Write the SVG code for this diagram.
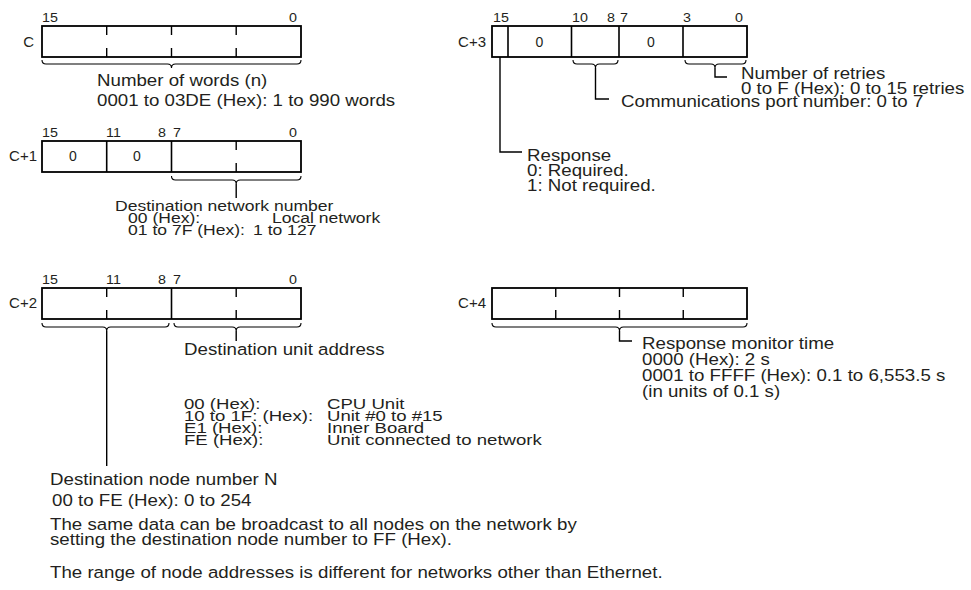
<svg xmlns="http://www.w3.org/2000/svg" width="971" height="590" viewBox="0 0 971 590">
<style>
text{font-family:"Liberation Sans",Arial,Helvetica,sans-serif;fill:#231f20}
.t{font-size:17px}
.s{font-size:15px}
.b{font-size:13px}
.r{font-size:15px}
.z{font-size:14px}
.box{fill:#fff;stroke:#000;stroke-width:1.8}
.div{stroke:#000;stroke-width:1.6;fill:none}
.tick{stroke:#000;stroke-width:1.4;fill:none}
.br{stroke:#000;stroke-width:1.1;fill:none}
.ld{stroke:#000;stroke-width:1.4;fill:none}
</style>

<g id="word-c">
  <rect class="box" x="42" y="26" width="259" height="31"/>
  <path class="tick" d="M106.7,26V35M106.7,48V57M171.5,26V35M171.5,48V57M236.2,26V35M236.2,48V57"/>
  <text class="r" x="34" y="47" text-anchor="end">C</text>
  <text class="b" transform="translate(42,22) scale(1.1,1)">15</text>
  <text class="b" transform="translate(289,22) scale(1.1,1)">0</text>
</g>

<g id="word-c1">
  <rect class="box" x="42" y="141" width="259" height="31"/>
  <path class="div" d="M106.7,141V172M171.5,141V172"/>
  <path class="tick" d="M236.2,141V150M236.2,163V172"/>
  <text class="r" x="37" y="161" text-anchor="end">C+1</text>
  <text class="z" x="73" y="161" text-anchor="middle">0</text>
  <text class="z" x="137" y="161" text-anchor="middle">0</text>
  <text class="b" transform="translate(42,137) scale(1.1,1)">15</text>
  <text class="b" transform="translate(106,137) scale(1.1,1)">11</text>
  <text class="b" transform="translate(158,137) scale(1.1,1)">8</text>
  <text class="b" transform="translate(173,137) scale(1.1,1)">7</text>
  <text class="b" transform="translate(289,137) scale(1.1,1)">0</text>
</g>

<g id="word-c2">
  <rect class="box" x="42" y="288" width="259" height="31"/>
  <path class="div" d="M171.5,288V319"/>
  <path class="tick" d="M106.7,288V297M106.7,310V319M236.2,288V297M236.2,310V319"/>
  <text class="r" x="37" y="308" text-anchor="end">C+2</text>
  <text class="b" transform="translate(42,284) scale(1.1,1)">15</text>
  <text class="b" transform="translate(106,284) scale(1.1,1)">11</text>
  <text class="b" transform="translate(158,284) scale(1.1,1)">8</text>
  <text class="b" transform="translate(173,284) scale(1.1,1)">7</text>
  <text class="b" transform="translate(289,284) scale(1.1,1)">0</text>
</g>

<g id="word-c3">
  <rect class="box" x="492" y="26" width="255" height="31"/>
  <path class="div" d="M508,26V57M571.5,26V57M619,26V57M683,26V57"/>
  <text class="r" x="486" y="47" text-anchor="end">C+3</text>
  <text class="z" x="539.5" y="47" text-anchor="middle">0</text>
  <text class="z" x="651" y="47" text-anchor="middle">0</text>
  <text class="b" transform="translate(493,22) scale(1.1,1)">15</text>
  <text class="b" transform="translate(572,22) scale(1.1,1)">10</text>
  <text class="b" transform="translate(607,22) scale(1.1,1)">8</text>
  <text class="b" transform="translate(620,22) scale(1.1,1)">7</text>
  <text class="b" transform="translate(683,22) scale(1.1,1)">3</text>
  <text class="b" transform="translate(735,22) scale(1.1,1)">0</text>
</g>

<g id="word-c4">
  <rect class="box" x="492" y="288" width="255" height="31"/>
  <path class="tick" d="M555.75,288V297M555.75,310V319M619.5,288V297M619.5,310V319M683.25,288V297M683.25,310V319"/>
  <text class="r" x="486" y="308" text-anchor="end">C+4</text>
</g>

<g id="connectors">
  <path class="br" d="M42,60Q42,64 46,64L167.5,64Q171.5,64 171.5,68Q171.5,64 175.5,64L297,64Q301,64 301,60"/>
  <path class="br" d="M171.5,176Q171.5,180 175.5,180L232.2,180Q236.2,180 236.2,184Q236.2,180 240.2,180L297,180Q301,180 301,176"/>
  <path class="ld" d="M236.2,184V198"/>
  <path class="br" d="M42,323Q42,327 46,327L102.7,327Q106.7,327 106.7,331Q106.7,327 110.7,327L165,327Q169,327 169,323"/>
  <path class="ld" d="M106.7,331V466"/>
  <path class="br" d="M174,323Q174,327 178,327L232.2,327Q236.2,327 236.2,331Q236.2,327 240.2,327L297,327Q301,327 301,323"/>
  <path class="ld" d="M236.2,331V341"/>
  <path class="br" d="M573,60Q573,64 577,64L591.5,64Q595.5,64 595.5,68Q595.5,64 599.5,64L614,64Q618,64 618,60"/>
  <path class="ld" d="M595.5,68V99H609"/>
  <path class="br" d="M685,60Q685,64 689,64L711,64Q715,64 715,68Q715,64 719,64L742,64Q746,64 746,60"/>
  <path class="ld" d="M715,68V77H727"/>
  <path class="ld" d="M500,57V152H522"/>
  <path class="br" d="M492,323Q492,327 496,327L615.5,327Q619.5,327 619.5,331Q619.5,327 623.5,327L743,327Q747,327 747,323"/>
  <path class="ld" d="M619.5,331V341H632"/>
</g>

<g id="label-words">
  <text class="t" transform="translate(97,86) scale(1.1,1)">Number of words (n)</text>
  <text class="t" transform="translate(97,106) scale(1.1,1)">0001 to 03DE (Hex): 1 to 990 words</text>
</g>

<g id="label-network">
  <text class="s" transform="translate(115,211) scale(1.17,1)">Destination network number</text>
  <text class="s" transform="translate(128,223) scale(1.17,1)">00 (Hex):</text>
  <text class="s" transform="translate(272,223) scale(1.17,1)">Local network</text>
  <text class="s" transform="translate(128,235) scale(1.17,1)">01 to 7F (Hex):</text>
  <text class="s" transform="translate(253,235) scale(1.17,1)">1 to 127</text>
</g>

<g id="label-unit">
  <text class="t" transform="translate(184,355) scale(1.1,1)">Destination unit address</text>
  <text class="s" transform="translate(184,409) scale(1.24,1)">00 (Hex):</text>
  <text class="s" transform="translate(327,409) scale(1.24,1)">CPU Unit</text>
  <text class="s" transform="translate(184,421) scale(1.24,1)">10 to 1F: (Hex):</text>
  <text class="s" transform="translate(327,421) scale(1.24,1)">Unit #0 to #15</text>
  <text class="s" transform="translate(184,433) scale(1.24,1)">E1 (Hex):</text>
  <text class="s" transform="translate(327,433) scale(1.24,1)">Inner Board</text>
  <text class="s" transform="translate(184,445) scale(1.24,1)">FE (Hex):</text>
  <text class="s" transform="translate(327,445) scale(1.24,1)">Unit connected to network</text>
</g>

<g id="label-node">
  <text class="t" transform="translate(50,485) scale(1.1,1)">Destination node number N</text>
  <text class="t" transform="translate(52,506) scale(1.1,1)">00 to FE (Hex): 0 to 254</text>
  <text class="t" transform="translate(50,530) scale(1.1,1)">The same data can be broadcast to all nodes on the network by</text>
  <text class="t" transform="translate(50,545) scale(1.1,1)">setting the destination node number to FF (Hex).</text>
  <text class="t" transform="translate(50,578) scale(1.1,1)">The range of node addresses is different for networks other than Ethernet.</text>
</g>

<g id="label-retries">
  <text class="t" transform="translate(741,79) scale(1.1,1)">Number of retries</text>
  <text class="t" transform="translate(741,94) scale(1.1,1)">0 to F (Hex): 0 to 15 retries</text>
</g>

<g id="label-port">
  <text class="t" transform="translate(621,107) scale(1.1,1)">Communications port number: 0 to 7</text>
</g>

<g id="label-response">
  <text class="t" transform="translate(527,161) scale(1.1,1)">Response</text>
  <text class="t" transform="translate(527,176) scale(1.1,1)">0: Required.</text>
  <text class="t" transform="translate(527,191) scale(1.1,1)">1: Not required.</text>
</g>

<g id="label-monitor">
  <text class="t" transform="translate(642,349) scale(1.1,1)">Response monitor time</text>
  <text class="t" transform="translate(642,365) scale(1.1,1)">0000 (Hex): 2 s</text>
  <text class="t" transform="translate(642,381) scale(1.1,1)">0001 to FFFF (Hex): 0.1 to 6,553.5 s</text>
  <text class="t" transform="translate(642,397) scale(1.1,1)">(in units of 0.1 s)</text>
</g>
</svg>
